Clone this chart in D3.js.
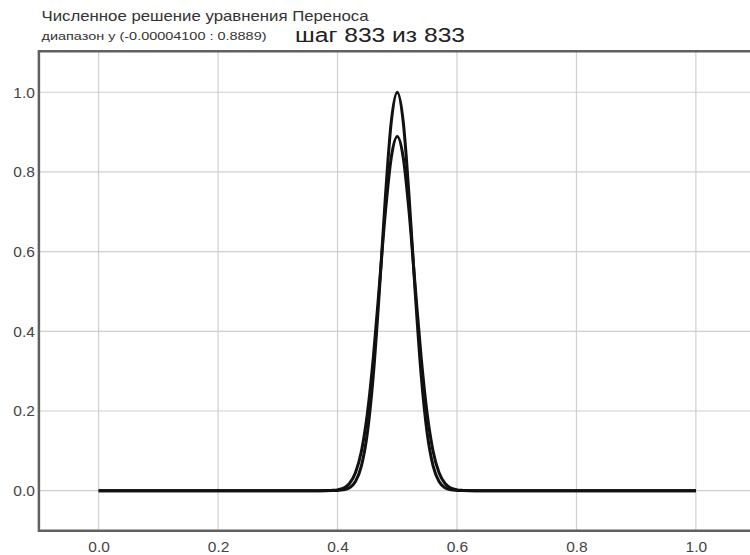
<!DOCTYPE html>
<html><head><meta charset="utf-8">
<script src="https://cdn.jsdelivr.net/npm/d3@7"></script>
<style>body{margin:0;background:#fff;}svg{display:block;font-family:"Liberation Sans",Arial,sans-serif;}</style>
</head><body>
<svg id="c" width="750" height="555"></svg>
<script>
const titleText = "Численное решение уравнения Переноса";
const subtitleText = "диапазон y (-0.00004100 : 0.8889)";
const stepText = "шаг 833 из 833";
const xTicks = [0.0, 0.2, 0.4, 0.6, 0.8, 1.0];
const yTicks = [0.0, 0.2, 0.4, 0.6, 0.8, 1.0];
const xs = [0.0, 0.1, 0.2, 0.3, 0.36, 0.38, 0.39, 0.40, 0.41, 0.42, 0.43, 0.44, 0.45, 0.46, 0.47, 0.48, 0.49, 0.50,
            0.51, 0.52, 0.53, 0.54, 0.55, 0.56, 0.57, 0.58, 0.59, 0.60, 0.61, 0.62, 0.64, 0.7, 0.8, 0.9, 1.0];
const exactY = [0, 0, 0, 0, 0, 0.00002, 0.0001, 0.00045, 0.0019, 0.0072, 0.0228, 0.0622, 0.1453, 0.2910, 0.4994, 0.7345, 0.926, 1.0,
                0.926, 0.7345, 0.4994, 0.2910, 0.1453, 0.0622, 0.0228, 0.0072, 0.0019, 0.00045, 0.0001, 0.00002, 0, 0, 0, 0, 0];
const numY = [0, 0, 0, 0, 0.00002, 0.00015, 0.0006, 0.0020, 0.0064, 0.0180, 0.0448, 0.0990, 0.1936, 0.3351, 0.5135, 0.6966, 0.8363, 0.8889,
              0.8363, 0.6966, 0.5135, 0.3351, 0.1936, 0.0990, 0.0448, 0.0180, 0.0064, 0.0020, 0.0006, 0.00015, 0.00002, 0, 0, 0, 0];

(function () {
const svg = d3.select("#c");
const x = d3.scaleLinear().domain([-0.1, 1.1]).range([38.9, 755.6]);
const y = d3.scaleLinear().domain([-0.1, 1.1]).range([530.5, 52.4]);
const pl = 38.9, pr = 750, pt = 51.2, pb = 530.8;

svg.append("g").selectAll("line").data(yTicks).join("line")
  .attr("x1", pl).attr("x2", pr).attr("y1", d => y(d)).attr("y2", d => y(d))
  .attr("stroke", "#cfcfcf").attr("stroke-width", 1.2);
svg.append("g").selectAll("line").data(xTicks).join("line")
  .attr("y1", pt).attr("y2", pb).attr("x1", d => x(d)).attr("x2", d => x(d))
  .attr("stroke", "#cfcfcf").attr("stroke-width", 1.2);

svg.append("path").attr("d", `M${pr},${pt}H${pl}V${pb}H${pr}`)
  .attr("fill", "none").attr("stroke", "#606060").attr("stroke-width", 2.5);

const xAxis = d3.axisBottom(x).tickValues(xTicks).tickFormat(d3.format(".1f")).tickSize(0).tickPadding(10);
const gx = svg.append("g").attr("transform", `translate(0,${pb})`).call(xAxis);
gx.select(".domain").remove();
gx.selectAll("text").attr("font-size", 15.5).attr("fill", "#444").attr("font-family", "Liberation Sans, Arial, sans-serif");
const yAxis = d3.axisLeft(y).tickValues(yTicks).tickFormat(d3.format(".1f")).tickSize(0).tickPadding(4);
const gy = svg.append("g").attr("transform", `translate(${pl},0)`).call(yAxis);
gy.select(".domain").remove();
gy.selectAll("text").attr("font-size", 15.5).attr("fill", "#444").attr("font-family", "Liberation Sans, Arial, sans-serif");

const line = d3.line().x((d, i) => x(xs[i])).y(d => y(d)).curve(d3.curveMonotoneX);
svg.append("path").datum(numY).attr("d", line).attr("fill", "none").attr("stroke", "#111").attr("stroke-width", 3);
svg.append("path").datum(exactY).attr("d", line).attr("fill", "none").attr("stroke", "#111").attr("stroke-width", 3);

svg.append("text").attr("x", 41.5).attr("y", 20.5).attr("font-size", 15).attr("fill", "#333")
  .attr("textLength", 327).attr("lengthAdjust", "spacingAndGlyphs").text(titleText);
svg.append("text").attr("x", 41.5).attr("y", 39.5).attr("font-size", 11).attr("fill", "#333")
  .attr("textLength", 225).attr("lengthAdjust", "spacingAndGlyphs").text(subtitleText);
svg.append("text").attr("x", 295).attr("y", 41.5).attr("font-size", 19.5).attr("fill", "#222")
  .attr("textLength", 170).attr("lengthAdjust", "spacingAndGlyphs").text(stepText);
})();
</script>
</body></html>
